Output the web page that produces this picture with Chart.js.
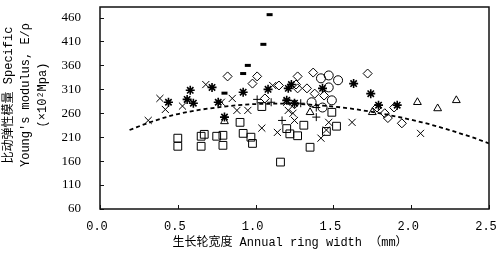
<!DOCTYPE html>
<html>
<head>
<meta charset="utf-8">
<script src="https://cdn.jsdelivr.net/npm/chart.js@4.4.0/dist/chart.umd.min.js"></script>
<style>
html, body { margin: 0; padding: 0; background: #fff; }
</style>
</head>
<body>
<canvas id="chart" width="502" height="261"></canvas>
<script>
// axis ticks
const xTicks = [0, 0.5, 1.0, 1.5, 2.0, 2.5];
const yTicks = [60, 110, 160, 210, 260, 310, 360, 410, 460];

// points, [ring width, E/rho]
const crossPts = [[0.31,245],[0.385,291],[0.42,268],[0.53,275],[0.68,320],[0.78,283],[0.85,291],[0.88,266],
  [0.95,266],[1.11,318],[1.04,229],[1.14,220],[1.20,283],[1.21,266],[1.24,260],[1.25,245],[1.47,241],
  [1.42,208],[1.455,225],[1.62,241],[2.06,218]];
const starPts = [[0.44,283],[0.56,289],[0.60,281],[0.58,308],[0.72,314],[0.76,283],[0.80,252],[0.92,304],
  [1.08,310],[1.21,312],[1.23,320],[1.20,287],[1.25,281],[1.43,312],[1.63,322],[1.74,301],[1.79,277],[1.91,277]];
const plusPts = [[1.01,289],[1.10,283],[1.17,245],[1.29,281],[1.39,272],[1.39,252]];
const squarePts = [[0.50,208],[0.50,191],[0.65,191],[0.65,212],[0.67,216],[0.75,212],[0.79,214],[0.79,193],
  [0.90,241],[0.92,218],[0.97,210],[0.98,197],[1.04,274],[1.20,228],[1.22,217],[1.27,213],[1.16,158],
  [1.31,235],[1.35,189],[1.455,222],[1.52,233],[1.49,262]];
const diamondPts = [[0.82,337],[0.98,322],[1.01,337],[1.06,291],[1.15,318],[1.27,337],[1.37,345],[1.26,320],
  [1.27,312],[1.33,312],[1.38,301],[1.44,297],[1.25,279],[1.72,343],[1.78,272],[1.83,260],[1.85,250],
  [1.89,272],[1.94,239]];
const circlePts = [[1.42,333],[1.47,339],[1.53,329],[1.47,314],[1.49,287],[1.36,283],[1.43,272]];
const trianglePts = [[0.80,243],[1.35,262],[1.75,262],[2.04,283],[2.17,270],[2.29,287]];
const dashPts = [[1.09,466],[1.05,404],[0.95,360],[0.92,343],[0.80,302]];

// dashed trend curve
const trendX = [0.19, 0.32, 0.47, 0.62, 0.75, 0.98, 1.2, 1.43, 1.65, 2.07, 2.39, 2.5];
const trendY = [225, 241, 256, 266, 272, 279, 280, 276, 268, 241, 210, 197];

const xTitle = '生长轮宽度 Annual ring width （mm）';
const yTitle = ['比动弹性模量 Specific', "Young's modulus, E/ρ", '(×10²Mpa)'];

const FONT = "'Liberation Mono', 'Noto Sans CJK SC', monospace";

function toXY(pts) {
    return pts.map(p => ({x: p[0], y: p[1]}));
}

function markSet(label, pts, style, radius, width) {
    return {
        label: label,
        data: toXY(pts),
        pointStyle: style,
        pointRadius: radius,
        pointBorderWidth: width,
        pointBorderColor: '#000',
        pointBackgroundColor: 'rgba(0,0,0,0)',
        showLine: false
    };
}

// box, inner tick marks and axis titles
const framePlugin = {
    id: 'frame',
    afterDraw(chart) {
        const ctx = chart.ctx;
        const a = chart.chartArea;
        const xs = chart.scales.x, ys = chart.scales.y;
        ctx.save();
        ctx.strokeStyle = '#111';
        ctx.lineWidth = 1.5;
        ctx.strokeRect(a.left, a.top, a.right - a.left, a.bottom - a.top);
        ctx.lineWidth = 1;
        ctx.beginPath();
        xTicks.forEach(v => {
            const px = Math.round(xs.getPixelForValue(v)) + 0.5;
            ctx.moveTo(px, a.bottom);
            ctx.lineTo(px, a.bottom - 4);
        });
        yTicks.forEach(v => {
            const py = Math.round(ys.getPixelForValue(v)) + 0.5;
            ctx.moveTo(a.left, py);
            ctx.lineTo(a.left + 4, py);
        });
        ctx.stroke();

        ctx.fillStyle = '#000';
        ctx.font = '12px ' + FONT;
        ctx.textAlign = 'center';
        ctx.textBaseline = 'middle';
        ctx.fillText(xTitle, 290, 243);

        ctx.translate(0, 95);
        ctx.rotate(-Math.PI / 2);
        yTitle.forEach((t, i) => {
            ctx.fillText(t, 0, 9 + i * 17);
        });
        ctx.restore();
    }
};

const ctx = document.getElementById('chart').getContext('2d');
new Chart(ctx, {
    type: 'scatter',
    data: {
        datasets: [
            {
                label: 'trend',
                data: trendX.map((x, i) => ({x: x, y: trendY[i]})),
                showLine: true,
                borderColor: '#000',
                borderWidth: 1.8,
                borderDash: [4, 3],
                pointRadius: 0,
                cubicInterpolationMode: 'monotone'
            },
            markSet('cross', crossPts, 'crossRot', 5, 1),
            markSet('star', starPts, 'star', 4.5, 1.6),
            markSet('plus', plusPts, 'cross', 4, 1),
            markSet('square', squarePts, 'rect', 5.5, 1),
            markSet('diamond', diamondPts, 'rectRot', 4.5, 1),
            markSet('circle', circlePts, 'circle', 4.5, 1),
            markSet('triangle', trianglePts, 'triangle', 4.5, 1),
            markSet('dash', dashPts, 'line', 3, 3)
        ]
    },
    options: {
        responsive: false,
        animation: false,
        layout: {
            padding: {left: 0, right: 13, top: 6, bottom: 0}
        },
        plugins: {
            legend: {display: false},
            tooltip: {enabled: false}
        },
        scales: {
            x: {
                type: 'linear',
                min: 0,
                max: 2.5,
                grid: {display: false, drawTicks: false},
                border: {display: false},
                afterBuildTicks: (scale) => { scale.ticks = xTicks.map(v => ({value: v})); },
                afterFit: (scale) => {
                    scale.height = 52;
                    scale.paddingLeft = 0;
                    scale.paddingRight = 0;
                },
                ticks: {
                    color: '#000',
                    padding: 11,
                    labelOffset: -3,
                    maxRotation: 0,
                    font: {family: FONT, size: 12},
                    callback: (v) => Number(v).toFixed(1)
                }
            },
            y: {
                type: 'linear',
                min: 60,
                max: 482,
                grid: {display: false, drawTicks: false},
                border: {display: false},
                afterBuildTicks: (scale) => { scale.ticks = yTicks.map(v => ({value: v})); },
                afterFit: (scale) => {
                    scale.width = 100;
                    scale.paddingTop = 0;
                    scale.paddingBottom = 0;
                },
                ticks: {
                    color: '#000',
                    padding: 19,
                    font: {family: "'Liberation Serif', serif", size: 13}
                }
            }
        }
    },
    plugins: [framePlugin]
});
</script>
</body>
</html>
